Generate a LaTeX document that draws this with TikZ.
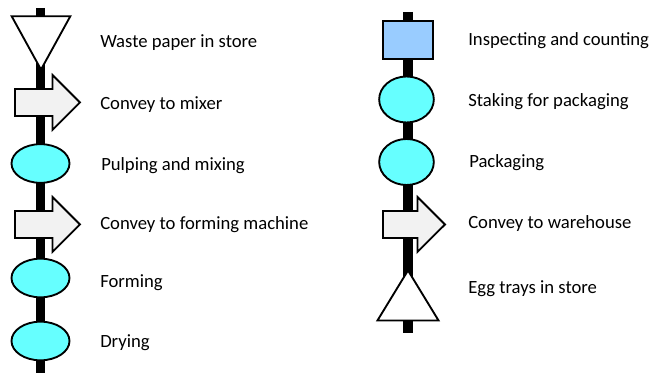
\documentclass[tikz,border=0pt]{standalone}
\usepackage{fontspec}
\setmainfont{Carlito}
\usepackage{xcolor}
\usetikzlibrary{shapes,arrows}

\definecolor{opcyan}{RGB}{102,255,255}
\definecolor{inspblue}{RGB}{153,204,255}
\definecolor{convgray}{RGB}{242,242,242}

\begin{document}
\begin{tikzpicture}[x=0.75pt, y=-0.75pt]
        \tikzstyle{spine} = [draw, line width=7pt]
        \tikzstyle{storage} = [isosceles triangle, isosceles triangle stretches, draw, fill=white, line width=1.4pt, inner sep=0pt]
        \tikzstyle{operation} = [ellipse, draw, fill=opcyan, line width=1.4pt, inner sep=0pt]
        \tikzstyle{inspection} = [rectangle, draw, fill=inspblue, line width=1.4pt, minimum width=37.5pt, minimum height=28.5pt]
        \tikzstyle{transport} = [single arrow, draw, fill=convgray, line width=1.4pt, minimum width=39.75pt, single arrow head extend=10.5pt, inner xsep=0pt, inner ysep=9.4pt, anchor=tail]
        \tikzstyle{desc} = [anchor=base west, inner sep=0pt, font=\fontsize{14}{17}\selectfont]

        \useasboundingbox (0,0) rectangle (658,373);

        % the two process lines
        \coordinate (ltop) at (40.5,8);
        \coordinate (lbot) at (40.5,380);
        \coordinate (rtop) at (408,12);
        \coordinate (rbot) at (408,333);
        \path [spine] (ltop) -- (lbot);
        \path [spine] (rtop) -- (rbot);

        % left column
        \node [storage, shape border rotate=270, minimum width=44pt, minimum height=40pt, anchor=apex] (paper) at (41,72) {};
        \node [transport, minimum height=48.75pt] (tomixer) at (14,102.5) {};
        \node [operation, minimum width=43.5pt, minimum height=29pt] (pulping) at (40.5,163.5) {};
        \node [transport, minimum height=48.75pt] (toforming) at (14,224.5) {};
        \node [operation, minimum width=43.5pt, minimum height=29pt] (forming) at (40.5,278) {};
        \node [operation, minimum width=43.5pt, minimum height=29pt] (drying) at (40.5,341) {};

        % right column
        \node [inspection] (inspect) at (408,40) {};
        \node [operation, minimum width=41pt, minimum height=34.5pt] (staking) at (406.5,99.5) {};
        \node [operation, minimum width=41pt, minimum height=34.5pt] (packing) at (406.5,162) {};
        \node [transport, minimum height=46.5pt] (towarehouse) at (382,224.5) {};
        \node [storage, shape border rotate=90, minimum width=45.75pt, minimum height=37.5pt, anchor=apex] (trays) at (408,268) {};

        % step names
        \node [desc] (paperlbl) at (100,48) {Waste paper in store};
        \node [desc] (tomixerlbl) at (100,110) {Convey to mixer};
        \node [desc] (pulpinglbl) at (101,171) {Pulping and mixing};
        \node [desc] (toforminglbl) at (100,230) {Convey to forming machine};
        \node [desc] (forminglbl) at (100,288) {Forming};
        \node [desc] (dryinglbl) at (100,348) {Drying};

        \node [desc] (inspectlbl) at (468,46) {Inspecting and counting};
        \node [desc] (stakinglbl) at (468,107) {Staking for packaging};
        \node [desc] (packinglbl) at (469,168) {Packaging};
        \node [desc] (towarehouselbl) at (468,229) {Convey to warehouse};
        \node [desc] (trayslbl) at (468,294) {Egg trays in store};

    \end{tikzpicture}
\end{document}
